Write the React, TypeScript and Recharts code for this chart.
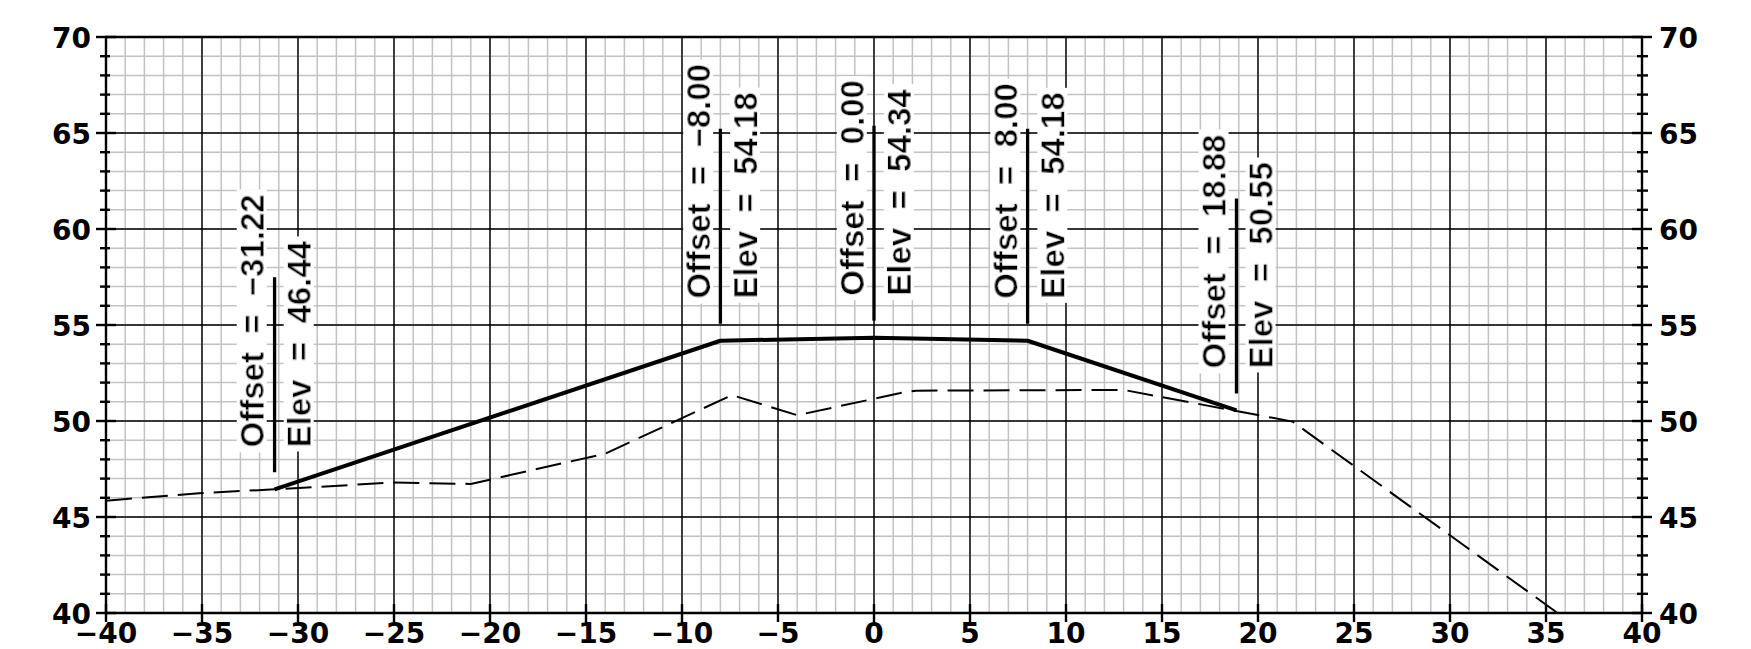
import React from 'react';
import { LineChart, Line, XAxis, YAxis, CartesianGrid, ReferenceArea } from 'recharts';

// axis ticks
const X_TICKS = [-40, -35, -30, -25, -20, -15, -10, -5, 0, 5, 10, 15, 20, 25, 30, 35, 40];
const Y_LABEL_TICKS = [40, 45, 50, 55, 60, 65, 70];
const Y_TICKS = [
    40, 41, 42, 43, 44, 45, 46, 47, 48, 49, 50, 51, 52, 53, 54, 55,
    56, 57, 58, 59, 60, 61, 62, 63, 64, 65, 66, 67, 68, 69, 70,
];
const X_MINOR_GRID = Array.from({ length: 81 }, (_, i) => i - 40);

// existing ground (dashed)
const GROUND_OFFSET = [-40, -35, -31.22, -25, -21, -14, -7.4, -4, 1.6, 2.2, 13, 21.8, 35.6];
const GROUND_ELEV = [45.85, 46.25, 46.44, 46.8, 46.72, 48.3, 51.35, 50.3, 51.5, 51.58, 51.62, 49.97, 40.0];

// design section (solid)
const DESIGN_OFFSET = [-31.22, -8.0, 0.0, 8.0, 18.88];
const DESIGN_ELEV = [46.44, 54.18, 54.34, 54.18, 50.55];

const ground = GROUND_OFFSET.map((x, i) => ({ x, elev: GROUND_ELEV[i] }));
const design = DESIGN_OFFSET.map((x, i) => ({ x, elev: DESIGN_ELEV[i] }));

const AXIS_FONT = '"DejaVu Sans", Verdana, sans-serif';
const LABEL_FONT = '"Liberation Sans", Arial, sans-serif';
const NB = '\u00A0\u00A0';

const signed = (v: number, digits = 0) => (v < 0 ? `\u2212${Math.abs(v).toFixed(digits)}` : v.toFixed(digits));

const LeftTick = ({ x, y, payload }: any) => {
    const major = payload.value % 5 === 0;
    return (
        <g>
            <line x1={x - (major ? 10 : 6)} x2={x + (major ? 10 : 4)} y1={y} y2={y} stroke="#000" strokeWidth={2.4} />
            {major && (
                <text x={x - 15} y={y + 11} textAnchor="end" fontFamily={AXIS_FONT} fontWeight="bold" fontSize={28} fill="#000">
                    {payload.value}
                </text>
            )}
        </g>
    );
};

const RightTick = ({ x, y, payload }: any) => {
    const major = payload.value % 5 === 0;
    return (
        <g>
            <line x1={x - (major ? 10 : 5)} x2={x + (major ? 10 : 6)} y1={y} y2={y} stroke="#000" strokeWidth={2.4} />
            {major && (
                <text x={x + 17} y={y + 11} textAnchor="start" fontFamily={AXIS_FONT} fontWeight="bold" fontSize={28} fill="#000">
                    {payload.value}
                </text>
            )}
        </g>
    );
};

const BottomTick = ({ x, y, payload }: any) => (
    <g>
        <line x1={x} x2={x} y1={y - 9} y2={y + 9} stroke="#000" strokeWidth={2.4} />
        <text x={x} y={y + 30} textAnchor="middle" fontFamily={AXIS_FONT} fontWeight="bold" fontSize={28} fill="#000">
            {signed(payload.value)}
        </text>
    </g>
);

// leader line + rotated "Offset / Elev" callout at each design break
const StationLabel = (props: any) => {
    const { cx, cy, payload, index } = props;
    if (cx == null || cy == null) return null;
    const fid = `callout-bg-${index}`;
    const bottom = cy - 17;
    const start = cy - 42;
    const ox = cx - 10.5;
    const ex = cx + 36.5;
    const textProps = { fontFamily: LABEL_FONT, fontWeight: 'bold' as const, fontSize: 33, fill: '#000', filter: `url(#${fid})` };
    return (
        <g key={fid}>
            <defs>
                <filter id={fid} x="-0.018" y="0.09" width="1.036" height="0.79">
                    <feFlood floodColor="#ffffff" result="bg" />
                    <feMerge>
                        <feMergeNode in="bg" />
                        <feMergeNode in="SourceGraphic" />
                    </feMerge>
                </filter>
            </defs>
            <line x1={cx} x2={cx} y1={bottom} y2={bottom - 195} stroke="#000" strokeWidth={3.3} />
            <text x={ox} y={start} transform={`rotate(-90 ${ox} ${start})`} {...textProps}>
                {`Offset${NB}=${NB}${signed(payload.x, 2)}`}
            </text>
            <text x={ex} y={start} transform={`rotate(-90 ${ex} ${start})`} {...textProps}>
                {`Elev${NB}=${NB}${payload.elev.toFixed(2)}`}
            </text>
        </g>
    );
};

const App: React.FC = () => {
    return (
        <div style={{ position: 'absolute', left: 0, top: 0, background: '#fff' }}>
            <LineChart width={1751} height={649} margin={{ top: 37, right: 49, bottom: 6, left: 46 }}>
                <CartesianGrid verticalValues={X_MINOR_GRID} horizontalValues={Y_TICKS} stroke="#c2c2c2" strokeWidth={1.5} />
                <CartesianGrid verticalValues={X_TICKS} horizontalValues={Y_LABEL_TICKS} stroke="#000" strokeWidth={1.4} />
                <XAxis
                    type="number"
                    dataKey="x"
                    domain={[-40, 40]}
                    ticks={X_TICKS}
                    interval={0}
                    height={30}
                    axisLine={false}
                    tickLine={false}
                    tickSize={0}
                    tickMargin={0}
                    tick={(p: any) => <BottomTick {...p} />}
                />
                <YAxis
                    type="number"
                    domain={[40, 70]}
                    ticks={Y_TICKS}
                    interval={0}
                    width={60}
                    axisLine={false}
                    tickLine={false}
                    tickSize={0}
                    tickMargin={0}
                    tick={(p: any) => <LeftTick {...p} />}
                />
                <YAxis
                    yAxisId="right"
                    orientation="right"
                    type="number"
                    domain={[40, 70]}
                    ticks={Y_TICKS}
                    interval={0}
                    width={60}
                    axisLine={false}
                    tickLine={false}
                    tickSize={0}
                    tickMargin={0}
                    tick={(p: any) => <RightTick {...p} />}
                />
                <ReferenceArea x1={-40} x2={40} y1={40} y2={70} fill="none" stroke="#000" strokeWidth={2.4} />
                <Line
                    yAxisId="right"
                    data={ground}
                    dataKey="elev"
                    type="linear"
                    stroke="#000"
                    strokeWidth={2}
                    strokeDasharray="26 10"
                    dot={false}
                    activeDot={false}
                    isAnimationActive={false}
                />
                <Line
                    data={design}
                    dataKey="elev"
                    type="linear"
                    stroke="#000"
                    strokeWidth={4}
                    strokeLinejoin="round"
                    dot={StationLabel}
                    activeDot={false}
                    isAnimationActive={false}
                />
            </LineChart>
        </div>
    );
};

export default App;
